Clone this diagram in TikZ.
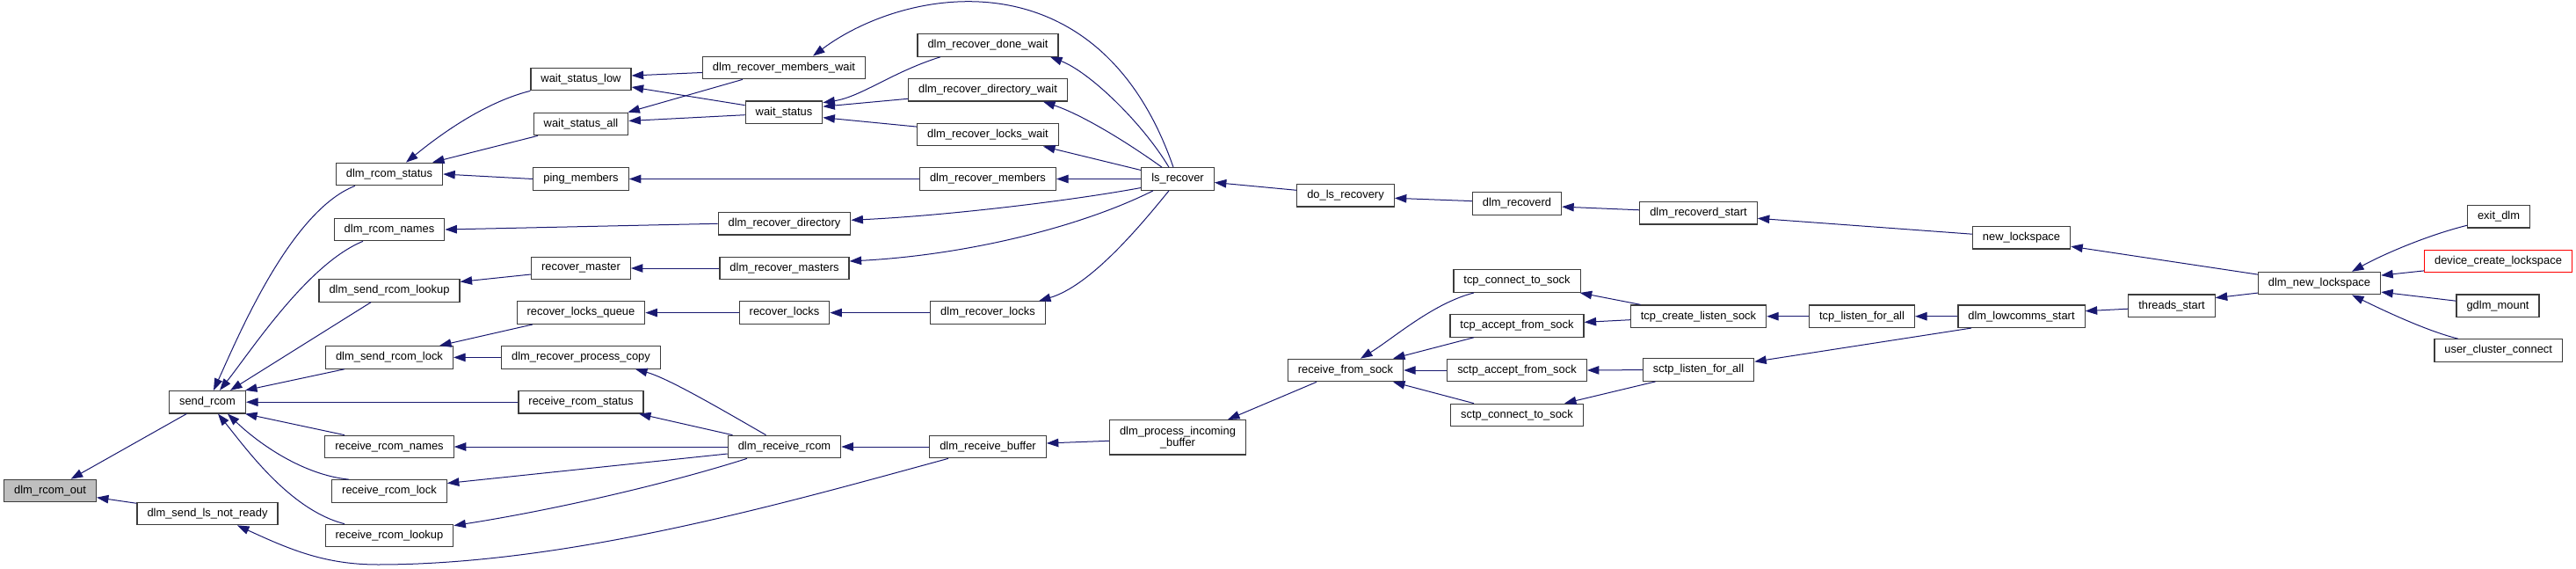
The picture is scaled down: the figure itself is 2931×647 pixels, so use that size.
\documentclass[tikz,border=0pt]{standalone}
\usepackage{fontspec}
\setmainfont{Liberation Sans}
\usetikzlibrary{arrows.meta}
\definecolor{cEdge}{RGB}{25,25,112}
\definecolor{cBorder}{RGB}{60,60,60}
\definecolor{cRoot}{RGB}{191,191,191}
\definecolor{cTrunc}{RGB}{255,0,0}
\tikzset{
	func/.style ={rectangle, draw=cBorder, line width=1.2pt, fill=white, minimum height=25.5pt, inner xsep=11.5pt, inner ysep=0pt, text centered, align=center},
	root/.style ={func, fill=cRoot},
	trunc/.style={func, draw=cTrunc},
	% caller -> callee, tip drawn on the callee side
	calls/.style={{Triangle[length=13.5pt, width=9.5pt]}-, draw=cEdge, line width=1pt},
}

\begin{document}
\begin{tikzpicture}[x=1pt, y=-1pt, font={\fontsize{12.9}{13.2}\selectfont}]
	\useasboundingbox (0,0) rectangle (2931,647);
	\node[root] (out) at (57,558) {dlm\_rcom\_out};
	\node[func] (send) at (236,457.2) {send\_rcom};
	\node[func] (lsnr) at (236,584) {dlm\_send\_ls\_not\_ready};
	\node[func] (stat) at (443,198) {dlm\_rcom\_status};
	\node[func] (names) at (443,261) {dlm\_rcom\_names};
	\node[func] (slook) at (443,330.4) {dlm\_send\_rcom\_lookup};
	\node[func] (slock) at (443,406.4) {dlm\_send\_rcom\_lock};
	\node[func] (rnames) at (443,508) {receive\_rcom\_names};
	\node[func] (rlock) at (443,558.5) {receive\_rcom\_lock};
	\node[func] (rlook) at (443,609) {receive\_rcom\_lookup};
	\node[func] (wlow) at (661,90) {wait\_status\_low};
	\node[func] (wall) at (661,141) {wait\_status\_all};
	\node[func] (ping) at (661,203.5) {ping\_members};
	\node[func] (rmast) at (661,305) {recover\_master};
	\node[func] (rlq) at (661,355.6) {recover\_locks\_queue};
	\node[func] (rpc) at (661,406.4) {dlm\_recover\_process\_copy};
	\node[func] (rstat) at (661,457.2) {receive\_rcom\_status};
	\node[func] (rmw) at (892,77) {dlm\_recover\_members\_wait};
	\node[func] (wst) at (892,127.7) {wait\_status};
	\node[func] (rdir) at (892.5,254.3) {dlm\_recover\_directory};
	\node[func] (rmasters) at (892.5,305) {dlm\_recover\_masters};
	\node[func] (rlocks) at (892.5,355.6) {recover\_locks};
	\node[func] (rrcom) at (892.5,508) {dlm\_receive\_rcom};
	\node[func] (dw) at (1124,51.4) {dlm\_recover\_done\_wait};
	\node[func] (dirw) at (1124,102.3) {dlm\_recover\_directory\_wait};
	\node[func] (lw) at (1124,153.1) {dlm\_recover\_locks\_wait};
	\node[func] (rmem) at (1124,203.5) {dlm\_recover\_members};
	\node[func] (dlocks) at (1124,355.6) {dlm\_recover\_locks};
	\node[func] (rbuf) at (1124,508) {dlm\_receive\_buffer};
	\node[func] (lsr) at (1340,203.5) {ls\_recover};
	\node[func, minimum height=39.3pt] (pib) at (1340,497.3) {dlm\_process\_incoming\\\_buffer};
	\node[func] (dlr) at (1531,222.3) {do\_ls\_recovery};
	\node[func] (rfs) at (1531,421) {receive\_from\_sock};
	\node[func] (rcvd) at (1726,231.6) {dlm\_recoverd};
	\node[func] (tcs) at (1726,319.6) {tcp\_connect\_to\_sock};
	\node[func] (tas) at (1726,370.4) {tcp\_accept\_from\_sock};
	\node[func] (sas) at (1726,421) {sctp\_accept\_from\_sock};
	\node[func] (scs) at (1726,472) {sctp\_connect\_to\_sock};
	\node[func] (rcvds) at (1932.5,242.3) {dlm\_recoverd\_start};
	\node[func] (tcls) at (1932.5,359.7) {tcp\_create\_listen\_sock};
	\node[func] (slfa) at (1932.5,420.6) {sctp\_listen\_for\_all};
	\node[func] (tlfa) at (2118.5,359.7) {tcp\_listen\_for\_all};
	\node[func] (nls) at (2300,270.2) {new\_lockspace};
	\node[func] (lcs) at (2300,359.7) {dlm\_lowcomms\_start};
	\node[func] (thr) at (2471,347.7) {threads\_start};
	\node[func] (dnl) at (2639,322.1) {dlm\_new\_lockspace};
	\node[func] (exit) at (2843,246.3) {exit\_dlm};
	\node[trunc] (dcl) at (2842.5,296.9) {device\_create\_lockspace};
	\node[func] (gdlm) at (2842,347.7) {gdlm\_mount};
	\node[func] (ucc) at (2842.7,398.5) {user\_cluster\_connect};

	\draw[calls] (out) -- (send);
	\draw[calls] (out) -- (lsnr);
	\draw[calls] ([xshift=7pt]send.north) .. controls (270,385) and (330,240) .. ([xshift=-39pt]stat.south);
	\draw[calls] ([xshift=14pt]send.north) .. controls (285,400) and (350,300) .. ([xshift=-30pt]names.south);
	\draw[calls] ([xshift=26pt]send.north) -- ([xshift=-21pt]slook.south);
	\draw[calls] ([xshift=-1pt]send.north east) -- ([xshift=-51pt]slock.south);
	\draw[calls] (send.east) -- (rstat.west);
	\draw[calls] ([xshift=-1pt]send.south east) -- ([xshift=-51pt]rnames.north);
	\draw[calls] ([xshift=23pt]send.south) .. controls (295,505) and (345,540) .. ([xshift=-46pt]rlock.north);
	\draw[calls] ([xshift=12pt]send.south) .. controls (280,510) and (330,580) .. ([xshift=-51pt]rlook.north);
	\draw[calls] ([xshift=19pt]stat.north) .. controls (490,162) and (545,118) .. (wlow.south west);
	\draw[calls] ([xshift=49pt]stat.north) -- ([xshift=-49pt]wall.south);
	\draw[calls] (stat.east) -- (ping.west);
	\draw[calls] (names.east) -- (rdir.west);
	\draw[calls] ([yshift=10pt]slook.east) -- ([yshift=-7pt]rmast.west);
	\draw[calls] ([xshift=57pt]slock.north) -- ([xshift=-55pt]rlq.south);
	\draw[calls] (slock.east) -- (rpc.west);
	\draw[calls] ([yshift=4pt]wlow.east) -- ([yshift=-5.5pt]rmw.west);
	\draw[calls] ([yshift=-9pt]wlow.east) -- ([yshift=8pt]wst.west);
	\draw[calls] ([xshift=-1pt]wall.north east) -- ([xshift=-47pt]rmw.south);
	\draw[calls] ([yshift=3.5pt]wall.east) -- ([yshift=-3pt]wst.west);
	\draw[calls] (ping.east) -- (rmem.west);
	\draw[calls] (rmast.east) -- (rmasters.west);
	\draw[calls] (rlq.east) -- (rlocks.west);
	\draw[calls] (rlocks.east) -- (dlocks.west);
	\draw[calls] ([yshift=11pt]wst.east) .. controls (980,110) and (1015,82) .. ([xshift=-54pt]dw.south);
	\draw[calls] ([yshift=6.5pt]wst.east) -- ([yshift=-10pt]dirw.west);
	\draw[calls] ([yshift=-6pt]wst.east) -- ([yshift=9pt]lw.west);
	\draw[calls] ([xshift=33pt]rmw.north) .. controls (1030,-15) and (1250,-55) .. ([xshift=-5pt]lsr.north);
	\draw[calls] ([xshift=71pt]dw.south) .. controls (1240,82) and (1300,140) .. ([xshift=-10pt]lsr.north);
	\draw[calls] ([xshift=63pt]dirw.south) .. controls (1230,130) and (1280,160) .. ([xshift=-18pt]lsr.north);
	\draw[calls] ([xshift=63pt]lw.south) -- ([yshift=10pt]lsr.west);
	\draw[calls] (rmem.east) -- (lsr.west);
	\draw[calls] ([yshift=4pt]rdir.east) .. controls (1080,245) and (1220,228) .. ([yshift=-10pt]lsr.west);
	\draw[calls] ([yshift=8pt]rmasters.east) .. controls (1100,290) and (1230,258) .. ([xshift=-28pt]lsr.south);
	\draw[calls] ([xshift=58pt]dlocks.north) .. controls (1240,325) and (1295,260) .. ([xshift=-10pt]lsr.south);
	\draw[calls] ([yshift=-4pt]lsr.east) -- ([yshift=6pt]dlr.west);
	\draw[calls] ([yshift=-3pt]dlr.east) -- ([yshift=3pt]rcvd.west);
	\draw[calls] ([yshift=-3.5pt]rcvd.east) -- ([yshift=3.5pt]rcvds.west);
	\draw[calls] ([yshift=-6pt]rcvds.east) -- ([yshift=4pt]nls.west);
	\draw[calls] ([yshift=-10pt]nls.east) -- ([yshift=10pt]dnl.west);
	\draw[calls] ([yshift=9pt]thr.east) -- ([yshift=-11pt]dnl.west);
	\draw[calls] ([yshift=6pt]lcs.east) -- ([yshift=-3.5pt]thr.west);
	\draw[calls] (tlfa.east) -- (lcs.west);
	\draw[calls] (tcls.east) -- (tlfa.west);
	\draw[calls] ([yshift=-4pt]slfa.north east) -- ([xshift=-57pt]lcs.south);
	\draw[calls] ([xshift=-1pt]tcs.south east) -- ([xshift=-66pt]tcls.north);
	\draw[calls] ([yshift=4pt]tas.east) -- ([yshift=-4pt]tcls.west);
	\draw[calls] (sas.east) -- (slfa.west);
	\draw[calls] ([xshift=54pt]scs.north) -- ([xshift=-49pt]slfa.south);
	\draw[calls] ([xshift=17pt]rfs.north) .. controls (1585,385) and (1630,345) .. ([xshift=-49pt]tcs.south);
	\draw[calls] ([xshift=54pt]rfs.north) -- ([xshift=-49pt]tas.south);
	\draw[calls] (rfs.east) -- (sas.west);
	\draw[calls] ([xshift=54pt]rfs.south) -- ([xshift=-49pt]scs.north);
	\draw[calls] ([xshift=57pt]pib.north) -- ([xshift=-33pt]rfs.south);
	\draw[calls] ([yshift=4pt]rbuf.east) -- ([yshift=-4pt]pib.west);
	\draw[calls] (rrcom.east) -- (rbuf.west);
	\draw[calls] ([xshift=34pt]lsnr.south) .. controls (330,625) and (370,642) .. (430,642) .. controls (650,642) and (900,570) .. ([xshift=-45pt]rbuf.south);
	\draw[calls] ([xshift=66pt]rstat.south) -- ([xshift=-59pt]rrcom.north);
	\draw[calls] ([xshift=62pt]rpc.south) .. controls (760,430) and (820,465) .. ([xshift=-21pt]rrcom.north);
	\draw[calls] (rnames.east) -- (rrcom.west);
	\draw[calls] ([yshift=9pt]rlock.east) -- ([yshift=-8pt]rrcom.west);
	\draw[calls] ([yshift=-2pt]rlook.north east) .. controls (630,580) and (760,550) .. ([xshift=-42.5pt]rrcom.south);
	\draw[calls] ([xshift=37pt]dnl.north) .. controls (2710,290) and (2760,268) .. ([yshift=-10pt]exit.west);
	\draw[calls] ([yshift=9pt]dnl.east) -- ([yshift=-11pt]dcl.west);
	\draw[calls] ([yshift=-10pt]dnl.east) -- ([yshift=5.5pt]gdlm.west);
	\draw[calls] ([xshift=37pt]dnl.south) .. controls (2710,352) and (2760,376) .. ([xshift=-46pt]ucc.north);
\end{tikzpicture}
\end{document}
